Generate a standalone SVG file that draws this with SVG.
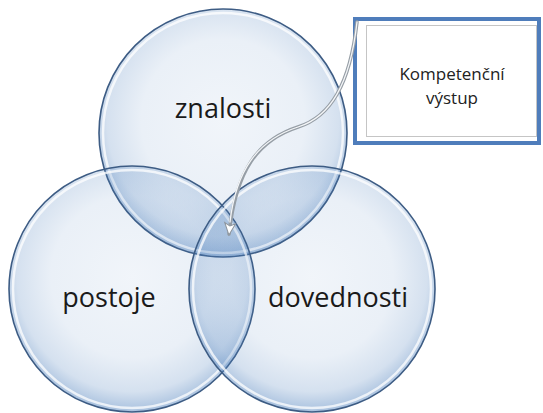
<svg xmlns="http://www.w3.org/2000/svg" width="543" height="413" viewBox="0 0 543 413">
  <defs>
    <radialGradient id="glass" cx="50%" cy="45%" r="55%">
      <stop offset="0" stop-color="#4f81bd" stop-opacity="0.08"/>
      <stop offset="0.6" stop-color="#4f81bd" stop-opacity="0.12"/>
      <stop offset="0.85" stop-color="#4f81bd" stop-opacity="0.24"/>
      <stop offset="1" stop-color="#4f81bd" stop-opacity="0.5"/>
    </radialGradient>
    <marker id="head" viewBox="0 0 14 14" refX="12" refY="7" markerWidth="14" markerHeight="14" markerUnits="userSpaceOnUse" orient="auto">
      <path d="M1,1.5 L13,7 L1,12.5 L4,7 Z" fill="#ffffff" stroke="#8c949c" stroke-width="1"/>
    </marker>
  </defs>
  <style>
    .disk { fill: url(#glass); stroke: #3d5c84; stroke-width: 1.6; }
    .rim { fill: none; stroke: #ffffff; stroke-width: 2.5; stroke-opacity: 0.75; }
    .label { font-family: "Open Sans", "Liberation Sans", sans-serif; font-size: 27px; fill: #1a1a1a; text-anchor: middle; }
    .boxtext { font-family: "Open Sans", "Liberation Sans", sans-serif; font-size: 17px; fill: #222222; text-anchor: middle; }
    .conn { fill: none; stroke: #969ea6; stroke-width: 3.5; stroke-linecap: round; }
    .connhi { fill: none; stroke: #f4f6f8; stroke-width: 1.3; stroke-linecap: round; }
  </style>
  <rect width="543" height="413" fill="#ffffff"/>

  <g id="circle-znalosti">
    <circle class="disk" cx="223" cy="133" r="124"/>
    <circle class="rim" cx="223" cy="133" r="120"/>
    <text class="label" x="223" y="118">znalosti</text>
  </g>
  <g id="circle-postoje">
    <circle class="disk" cx="132" cy="289" r="123"/>
    <circle class="rim" cx="132" cy="289" r="119"/>
    <text class="label" x="109" y="307">postoje</text>
  </g>
  <g id="circle-dovednosti">
    <circle class="disk" cx="312" cy="289" r="123"/>
    <circle class="rim" cx="312" cy="289" r="119"/>
    <text class="label" x="338" y="307">dovednosti</text>
  </g>

  <g id="box-vystup">
    <rect x="355" y="19" width="184" height="124" fill="#ffffff" stroke="#4f7dbb" stroke-width="4"/>
    <rect x="366.5" y="25.5" width="170" height="111" fill="none" stroke="#8a8a8a" stroke-width="1" stroke-dasharray="1,1"/>
    <text class="boxtext" x="452" y="80">Kompetenční</text>
    <text class="boxtext" x="452" y="104">výstup</text>
  </g>

  <g id="connectors">
    <path class="conn" d="M357,22 C350,85 330,117 298,127 C258,140 236,170 229,234" marker-end="url(#head)"/>
    <path class="connhi" d="M357,22 C350,85 330,117 298,127 C258,140 236,170 230,222"/>
  </g>
</svg>
